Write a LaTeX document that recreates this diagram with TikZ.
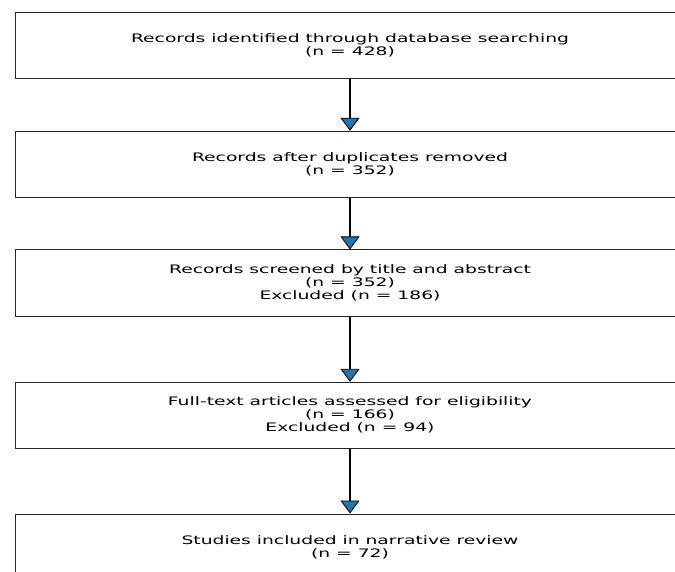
\documentclass[tikz,border=0pt]{standalone}
\usepackage{fontspec}
\setmainfont{DejaVu Sans}[FakeStretch=1.6]
\usetikzlibrary{arrows.meta}
\definecolor{mplblue}{HTML}{1F77B4}
\tikzset{
  stage/.style={draw=black!85, line width=1pt, fill=white, minimum width=670pt, minimum height=66pt,
    inner sep=0pt, align=center, font=\fontsize{11.7}{13}\selectfont},
  flow/.style={line width=2pt, black, -{Triangle[width=19pt,length=13pt,fill=mplblue,line width=0.9pt]}, shorten >=0pt}
}
\begin{document}
\begin{tikzpicture}[x=1pt,y=-1pt]
\useasboundingbox (0,0) rectangle (675,572);
\clip (0,0) rectangle (675,572);
\node[stage] (b1) at (350,45.7) {Records identified through database searching\\(n = 428)};
\node[stage] (b2) at (350,164.3) {Records after duplicates removed\\(n = 352)};
\node[stage] (b3) at (350,283) {Records screened by title and abstract\\(n = 352)\\Excluded (n = 186)};
\node[stage] (b4) at (350,415.3) {Full-text articles assessed for eligibility\\(n = 166)\\Excluded (n = 94)};
\node[stage] (b5) at (350,547) {Studies included in narrative review\\(n = 72)};
\draw[flow] (b1.south) -- (b2.north);
\draw[flow] (b2.south) -- (b3.north);
\draw[flow] (b3.south) -- (b4.north);
\draw[flow] (b4.south) -- (b5.north);
\end{tikzpicture}
\end{document}
